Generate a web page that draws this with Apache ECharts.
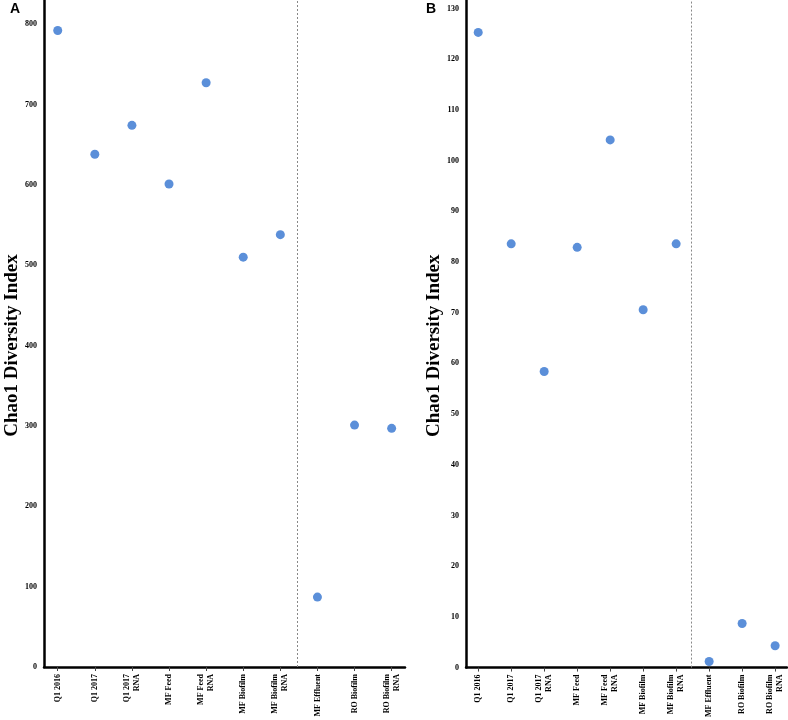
<!DOCTYPE html>
<html>
<head>
<meta charset="utf-8">
<script src="https://cdn.jsdelivr.net/npm/echarts@6/dist/echarts.min.js"></script>
<style>html,body{margin:0;padding:0;background:#fff}#c{width:788px;height:720px}</style>
</head>
<body>
<div id="c"></div>
<script>
var categories = ['Q1 2016', 'Q1 2017', 'Q1 2017\nRNA', 'MF Feed', 'MF Feed\nRNA', 'MF Biofilm', 'MF Biofilm\nRNA', 'MF Effluent', 'RO Biofilm', 'RO Biofilm\nRNA'];
var chaoA = [792, 638, 674, 601, 727, 510, 538, 87, 301, 297];
var chaoB = [125.3, 83.6, 58.4, 82.9, 104.1, 70.6, 83.6, 1.2, 8.7, 4.3];
var ticksA = [0, 100, 200, 300, 400, 500, 600, 700, 800];
var ticksB = [0, 10, 20, 30, 40, 50, 60, 70, 80, 90, 100, 110, 120, 130];
var catIdx = categories.map(function (c, i) { return i; });
var dividerA = 6.45;
var dividerB = 6.47;

var serif = '"Liberation Serif", "Times New Roman", serif';
var dotColor = '#5b8fd9';

function xAxisCfg(gi) {
  return {
    type: 'value', gridIndex: gi, min: -0.37, max: 9.36,
    splitLine: { show: false },
    axisLine: { show: true, onZero: false, lineStyle: { color: '#000', width: 2.5 } },
    axisTick: { show: true, customValues: catIdx, length: 4, lineStyle: { color: '#444', width: 1 } },
    axisLabel: {
      customValues: catIdx, rotate: 90, margin: 7,
      fontFamily: serif, fontWeight: 'bold', fontSize: 8, color: '#000', lineHeight: 10,
      formatter: function (v) { return categories[Math.round(v)]; }
    }
  };
}
function yAxisCfg(gi, max, ticks) {
  return {
    type: 'value', gridIndex: gi, min: 0, max: max,
    name: 'Chao1 Diversity Index', nameLocation: 'middle', nameGap: 22, nameMoveOverlap: false,
    nameTextStyle: { fontFamily: serif, fontWeight: 'bold', fontSize: 19, color: '#000', padding: [0, 24, 0, 0] },
    splitLine: { show: false },
    axisLine: { show: true, onZero: false, lineStyle: { color: '#000', width: 2.5 } },
    axisTick: { show: false },
    axisLabel: { customValues: ticks, margin: 7, fontFamily: serif, fontWeight: 'bold', fontSize: 8, color: '#000' }
  };
}
function seriesCfg(gi, vals, divider) {
  return {
    type: 'scatter', xAxisIndex: gi, yAxisIndex: gi,
    symbolSize: 9, itemStyle: { color: dotColor, opacity: 1 },
    data: vals.map(function (v, i) { return [i, v]; }),
    markLine: {
      silent: true, symbol: 'none', label: { show: false },
      lineStyle: { type: [2, 2], color: '#888', width: 1 },
      data: [{ xAxis: divider }]
    }
  };
}

var chart = echarts.init(document.getElementById('c'));
chart.setOption({
  animation: false,
  grid: [
    { left: 44, top: 0, width: 361, height: 667 },
    { left: 466, top: 0, width: 321, height: 668.5 }
  ],
  xAxis: [xAxisCfg(0), xAxisCfg(1)],
  yAxis: [yAxisCfg(0, 830, ticksA), yAxisCfg(1, 131.7, ticksB)],
  series: [seriesCfg(0, chaoA, dividerA), seriesCfg(1, chaoB, dividerB)],
  graphic: [
    { type: 'text', left: 10, top: 2, style: { text: 'A', font: 'bold 14px "Liberation Sans", Arial, sans-serif', fill: '#000' } },
    { type: 'text', left: 426, top: 2, style: { text: 'B', font: 'bold 14px "Liberation Sans", Arial, sans-serif', fill: '#000' } }
  ]
});
</script>
</body>
</html>
